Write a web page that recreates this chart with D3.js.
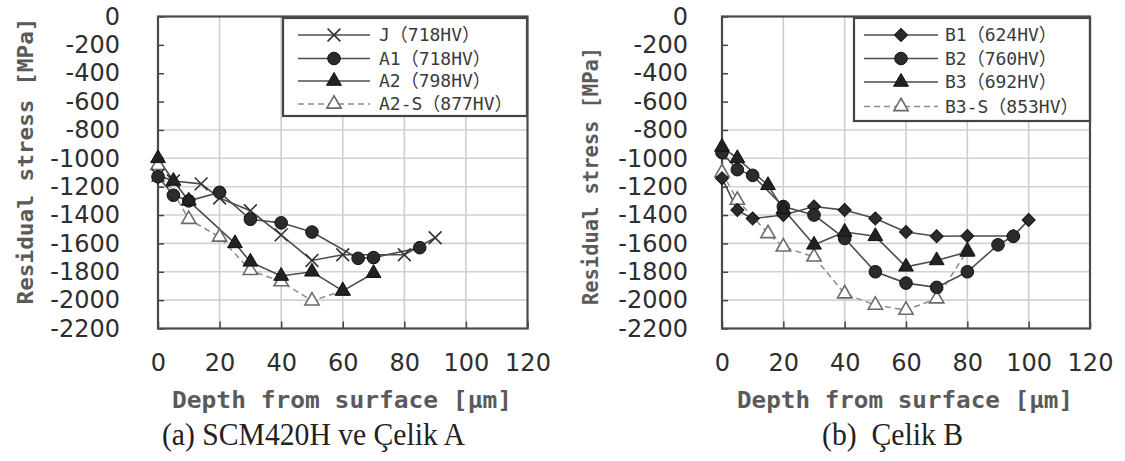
<!DOCTYPE html>
<html><head><meta charset="utf-8">
<script src="https://cdn.jsdelivr.net/npm/d3@7"></script>
<style>body{margin:0;background:#fff} svg{display:block}</style>
</head><body><svg id="c" width="1125" height="461"></svg>
<script>
// ---------- data ----------
const depthTicks = [0, 20, 40, 60, 80, 100, 120];
const stressTicks = [0, -200, -400, -600, -800, -1000, -1200, -1400, -1600, -1800, -2000, -2200];
const gridDepth = [20, 40, 60, 80, 100];
const gridStress = [-800, -1000, -1200, -1400, -1600, -1800, -2000];

// panel (a)
const seriesJ   = [[0,-1120],[5,-1160],[14,-1180],[20,-1280],[30,-1370],[40,-1540],[50,-1720],[60,-1680],[80,-1680],[90,-1560]];
const seriesA1  = [[0,-1130],[5,-1260],[10,-1300],[20,-1240],[30,-1430],[40,-1455],[50,-1520],[65,-1705],[70,-1700],[85,-1630]];
const seriesA2  = [[0,-1000],[5,-1160],[10,-1300],[25,-1600],[30,-1730],[40,-1830],[50,-1800],[60,-1935],[70,-1810]];
const seriesA2S = [[0,-1050],[10,-1430],[20,-1555],[30,-1790],[40,-1870],[50,-2005],[60,-1935]];
// panel (b)
const seriesB1  = [[0,-1140],[5,-1365],[10,-1425],[20,-1400],[30,-1340],[40,-1365],[50,-1425],[60,-1520],[70,-1550],[80,-1548],[95,-1548],[100,-1435]];
const seriesB2  = [[0,-960],[5,-1080],[10,-1120],[20,-1340],[30,-1400],[40,-1565],[50,-1800],[60,-1880],[70,-1910],[80,-1800],[90,-1610],[95,-1550]];
const seriesB3  = [[0,-920],[5,-1000],[15,-1190],[20,-1360],[30,-1610],[40,-1520],[50,-1550],[60,-1765],[70,-1720],[80,-1660]];
const seriesB3S = [[0,-1100],[5,-1295],[15,-1530],[20,-1625],[30,-1695],[40,-1955],[50,-2035],[60,-2070],[70,-1990],[80,-1650]];

const legendA = ["J（718HV）", "A1（718HV）", "A2（798HV）", "A2-S（877HV）"];
const legendB = ["B1（624HV）", "B2（760HV）", "B3（692HV）", "B3-S（853HV）"];
const markersA = ["x", "circle", "triangle", "open"];
const markersB = ["diamond", "circle", "triangle", "open"];
const captionA = "(a) SCM420H ve Çelik A";
const captionB = "(b)  Çelik B";
const yTitle = "Residual stress [MPa]";
const xTitle = "Depth from surface [μm]";

// ---------- drawing ----------
const svg = d3.select("#c");

function drawMarker(g, type, x, y) {
  if (type === "x") {
    const r = 6.4;
    g.append("path").attr("d", `M${x-r},${y-r}L${x+r},${y+r}M${x-r},${y+r}L${x+r},${y-r}`)
      .attr("stroke", "#333").attr("stroke-width", 1.6).attr("fill", "none");
  } else if (type === "circle") {
    g.append("path").attr("transform", `translate(${x},${y})`)
      .attr("d", d3.symbol().type(d3.symbolCircle).size(125)())
      .attr("fill", "#2b2b2b").attr("stroke", "#111").attr("stroke-width", 1);
  } else if (type === "triangle") {
    g.append("path").attr("transform", `translate(${x},${y})`)
      .attr("d", d3.symbol().type(d3.symbolTriangle).size(95)())
      .attr("fill", "#222").attr("stroke", "#111").attr("stroke-width", 1);
  } else if (type === "open") {
    g.append("path").attr("transform", `translate(${x},${y})`)
      .attr("d", d3.symbol().type(d3.symbolTriangle).size(88)())
      .attr("fill", "#fff").attr("stroke", "#6a6a6a").attr("stroke-width", 1.6);
  } else if (type === "diamond") {
    g.append("path").attr("transform", `translate(${x},${y}) rotate(45)`)
      .attr("d", d3.symbol().type(d3.symbolSquare).size(85)())
      .attr("fill", "#2b2b2b").attr("stroke", "#111").attr("stroke-width", 1);
  }
}

function panel(cfg) {
  const x = d3.scaleLinear().domain([0, 120]).range([cfg.x0, cfg.x1]);
  const y = d3.scaleLinear().domain([0, -2200]).range([cfg.y0, cfg.y1]);
  const g = svg.append("g");

  g.append("rect").attr("x", cfg.x0).attr("y", cfg.y0)
    .attr("width", cfg.x1 - cfg.x0).attr("height", cfg.y1 - cfg.y0).attr("fill", "#fff");

  // grid
  g.append("g").selectAll("line").data(gridDepth).join("line")
    .attr("x1", d => x(d)).attr("x2", d => x(d)).attr("y1", cfg.y0).attr("y2", cfg.y1)
    .attr("stroke", "#cdcdcd").attr("stroke-width", 1.6);
  g.append("g").selectAll("line").data(gridStress).join("line")
    .attr("x1", cfg.x0).attr("x2", cfg.x1).attr("y1", d => y(d)).attr("y2", d => y(d))
    .attr("stroke", "#d2d2d2").attr("stroke-width", 1.6);

  const fmt = d => d < 0 ? "-" + Math.abs(d) : String(d);
  const ay = g.append("g").attr("transform", `translate(${cfg.x0},0)`)
    .call(d3.axisLeft(y).tickValues(stressTicks).tickSize(-6).tickPadding(cfg.yPad).tickFormat(fmt));
  const ax = g.append("g").attr("transform", `translate(0,${cfg.y1})`)
    .call(d3.axisBottom(x).tickValues(depthTicks).tickSize(-7).tickPadding(25).tickFormat(fmt));
  [ay, ax].forEach(a => {
    a.select(".domain").remove();
    a.selectAll(".tick line").attr("stroke", "#444").attr("stroke-width", 1.5);
    a.selectAll(".tick text").attr("fill", "#2e2e2e")
      .style("font-family", "DejaVu Sans").style("font-size", "24px");
  });

  // legend box
  const lg = g.append("g");
  lg.append("rect").attr("x", cfg.lx).attr("y", cfg.ly).attr("width", cfg.lw).attr("height", cfg.lh)
    .attr("fill", "#fff").attr("stroke", "#444").attr("stroke-width", 2.2);

  // frame
  g.append("rect").attr("x", cfg.x0).attr("y", cfg.y0)
    .attr("width", cfg.x1 - cfg.x0).attr("height", cfg.y1 - cfg.y0)
    .attr("fill", "none").attr("stroke", "#4a4a4a").attr("stroke-width", 2.2);

  const line = d3.line().x(d => x(d[0])).y(d => y(d[1]));
  const order = [3, 0, 1, 2];
  order.forEach(i => {
    const dashed = cfg.markers[i] === "open";
    g.append("path").attr("d", line(cfg.series[i])).attr("fill", "none")
      .attr("stroke", dashed ? "#8c8c8c" : "#4d4d4d").attr("stroke-width", dashed ? 1.5 : 1.6)
      .attr("stroke-dasharray", dashed ? "6,4" : null);
  });
  order.forEach(i => {
    const mg = g.append("g");
    cfg.series[i].forEach(p => drawMarker(mg, cfg.markers[i], x(p[0]), y(p[1])));
  });

  // legend entries
  cfg.labels.forEach((t, i) => {
    const yy = cfg.rows[i];
    const dashed = cfg.markers[i] === "open";
    lg.append("line").attr("x1", cfg.lineX0).attr("x2", cfg.lineX1).attr("y1", yy).attr("y2", yy)
      .attr("stroke", dashed ? "#8c8c8c" : "#4d4d4d").attr("stroke-width", 1.6)
      .attr("stroke-dasharray", dashed ? "6,4" : null);
    drawMarker(lg, cfg.markers[i], (cfg.lineX0 + cfg.lineX1) / 2, yy);
    lg.append("text").attr("x", cfg.textX).attr("y", yy).attr("dy", "0.36em")
      .attr("fill", "#3a3a3a").style("font-family", "'DejaVu Sans Mono','Noto Sans CJK JP'")
      .style("font-size", "18px").text(t);
  });

  // titles
  g.append("text").attr("transform", `translate(${cfg.ytX},${cfg.ytY}) rotate(-90)`)
    .attr("text-anchor", "middle").attr("dy", "0.35em").attr("fill", "#5a5a5a")
    .attr("textLength", cfg.ytLen).attr("lengthAdjust", "spacingAndGlyphs")
    .style("font-family", "DejaVu Sans Mono").style("font-weight", "bold").style("font-size", "22px").text(yTitle);
  g.append("text").attr("x", cfg.xtX).attr("y", 400).attr("dy", "0.35em")
    .attr("text-anchor", "middle").attr("fill", "#5a5a5a")
    .attr("textLength", cfg.xtLen).attr("lengthAdjust", "spacingAndGlyphs")
    .style("font-family", "'DejaVu Sans Mono','Noto Sans CJK JP'").style("font-weight", "bold").style("font-size", "23px").text(xTitle);
  g.append("text").attr("x", cfg.capX).attr("y", 445).attr("text-anchor", "middle")
    .attr("fill", "#222").attr("textLength", cfg.capLen).attr("lengthAdjust", "spacingAndGlyphs")
    .style("font-family", "'Liberation Serif','Times New Roman',serif").style("font-size", "32px")
    .style("white-space", "pre").text(cfg.caption);
}

panel({
  x0: 158, x1: 527.5, y0: 16.5, y1: 328.5, yPad: 38,
  series: [seriesJ, seriesA1, seriesA2, seriesA2S], markers: markersA, labels: legendA,
  lx: 283, ly: 18, lw: 244, lh: 98, rows: [35, 58.5, 81, 104],
  lineX0: 298, lineX1: 370, textX: 379,
  ytX: 25, ytY: 161, ytLen: 287, xtX: 342, xtLen: 340,
  capX: 313.5, capLen: 303, caption: captionA
});
panel({
  x0: 722, x1: 1090, y0: 16.5, y1: 328.5, yPad: 34,
  series: [seriesB1, seriesB2, seriesB3, seriesB3S], markers: markersB, labels: legendB,
  lx: 854, ly: 18, lw: 236, lh: 103, rows: [35, 58.5, 82, 106.5],
  lineX0: 864, lineX1: 938, textX: 945,
  ytX: 590, ytY: 176, ytLen: 258, xtX: 905, xtLen: 336,
  capX: 892.5, capLen: 141, caption: captionB
});
</script></body></html>
